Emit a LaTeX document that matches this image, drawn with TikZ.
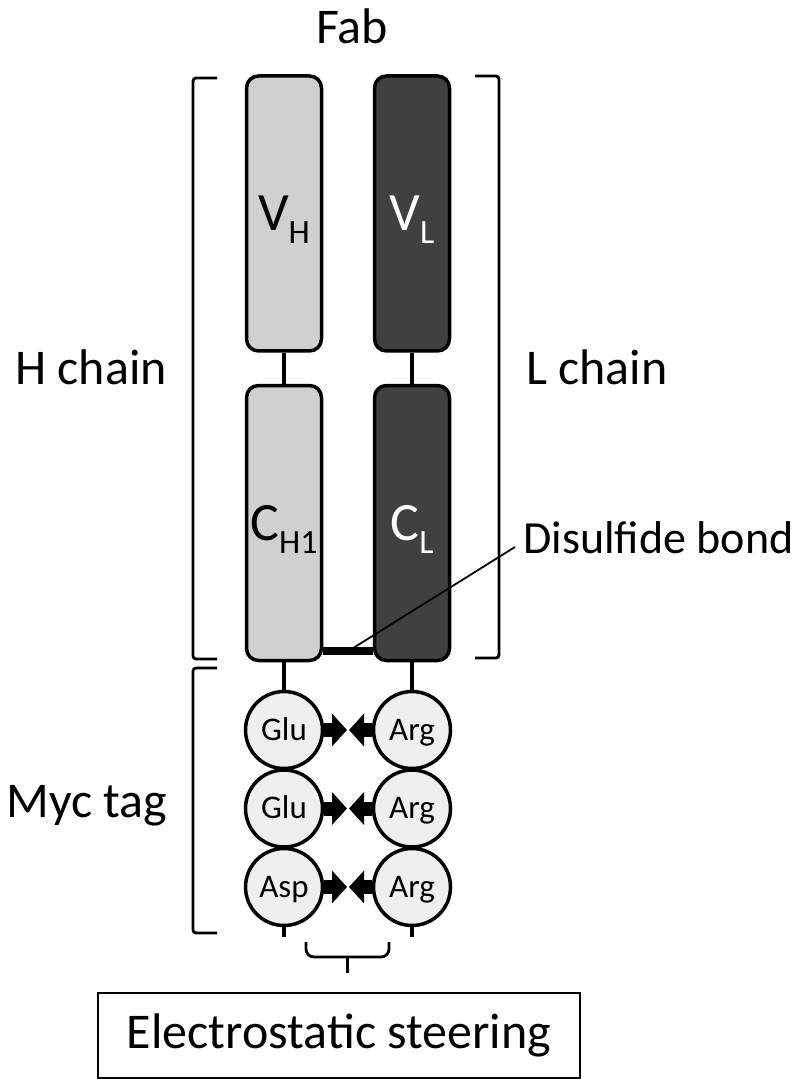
\documentclass[tikz,border=0pt]{standalone}
\usepackage{fontspec}
\setmainfont{Carlito}
\usetikzlibrary{positioning, arrows.meta, calc}
\definecolor{lightdomain}{HTML}{D0D0D0}
\definecolor{darkdomain}{HTML}{404040}
\definecolor{residuefill}{HTML}{EFEFEF}
\newcommand{\domlabel}[2]{{\fontsize{27}{30}\selectfont #1}{\fontsize{17}{20}\selectfont\raisebox{-6.5pt}[0pt][0pt]{#2}}}

\begin{document}
\begin{tikzpicture}
    [
        x=0.5pt, y=-0.5pt,
        node distance=154.75pt and 64pt, on grid,
        light_domain/.style={rectangle, rounded corners=6pt, draw=black, fill=lightdomain, line width=1.75pt, minimum width=37.5pt, minimum height=137.5pt, inner sep=0pt},
        dark_domain/.style={light_domain, fill=darkdomain, text=white},
        residue/.style={circle, draw=black, fill=residuefill, line width=1.75pt, minimum size=38.5pt, inner sep=0pt, text height=12pt, text depth=2pt, font=\fontsize{16.5}{18}\selectfont},
        link/.style={line width=2pt},
        bracket/.style={line width=1.4pt, rounded corners=1.5pt},
        attract/.style={-{Triangle[length=7.5pt, width=16pt]}, line width=7pt},
        big_label/.style={font=\fontsize{25}{30}\selectfont, anchor=base, inner sep=0pt},
    ]
        \useasboundingbox (0,0) rectangle (798,1079) ;
        \node[big_label] (fab) at (352,44) {Fab} ;
        \node[big_label] (h_chain) at (91,385) {H chain} ;
        \node[big_label] (l_chain) at (597,385) {L chain} ;
        \node[big_label] (myc_tag) at (87,817) {Myc tag} ;
        \node[light_domain] (vh) at (284,213.5) {\domlabel{V}{H}} ;
        \node[dark_domain] (vl) [right = of vh] {\domlabel{V}{L}} ;
        \node[light_domain] (ch1) [below = of vh] {\domlabel{C}{H1}} ;
        \node[dark_domain] (cl) [below = of vl] {\domlabel{C}{L}} ;
        \node[residue] (glu1) [below = 103.5pt of ch1] {Glu} ;
        \node[residue] (glu2) [below = 39.25pt of glu1] {Glu} ;
        \node[residue] (asp) [below = 39.25pt of glu2] {Asp} ;
        \node[residue] (arg1) [right = of glu1] {Arg} ;
        \node[residue] (arg2) [right = of glu2] {Arg} ;
        \node[residue] (arg3) [right = of asp] {Arg} ;
        \coordinate[below = 25pt of asp] (asp_tail) ;
        \coordinate[below = 25pt of arg3] (arg3_tail) ;
        \draw[link] (vh) -- (ch1) ;
        \draw[link] (vl) -- (cl) ;
        \draw[link] (ch1) -- (glu1) ;
        \draw[link] (cl) -- (arg1) ;
        \draw[link] (asp) -- (asp_tail) ;
        \draw[link] (arg3) -- (arg3_tail) ;
        % disulfide bond between CH1 and CL
        \coordinate (ss_left) at ([yshift=5.5pt]ch1.south east) ;
        \coordinate (ss_right) at ([yshift=5.5pt]cl.south west) ;
        \draw[line width=4pt] (ss_left) -- (ss_right) ;
        \node[font=\fontsize{23}{27}\selectfont, anchor=base west, inner sep=0pt] (ss_label) at (523,553) {Disulfide bond} ;
        \draw[line width=0.9pt] ($(ss_left)!0.5!(ss_right)$) -- ([xshift=-4pt, yshift=3pt]ss_label.base west) ;
        % charge pairs
        \coordinate (mid_1) at ($(glu1)!0.5!(arg1)$) ;
        \coordinate (mid_2) at ($(glu2)!0.5!(arg2)$) ;
        \coordinate (mid_3) at ($(asp)!0.5!(arg3)$) ;
        \draw[attract] (glu1) -- ([xshift=-0.5pt]mid_1) ;
        \draw[attract] (arg1) -- ([xshift=0.5pt]mid_1) ;
        \draw[attract] (glu2) -- ([xshift=-0.5pt]mid_2) ;
        \draw[attract] (arg2) -- ([xshift=0.5pt]mid_2) ;
        \draw[attract] (asp) -- ([xshift=-0.5pt]mid_3) ;
        \draw[attract] (arg3) -- ([xshift=0.5pt]mid_3) ;
        % brackets
        \draw[bracket] (217,78) -- (193,78) -- (193,659) -- (217,659) ;
        \draw[bracket] (475,76) -- (499,76) -- (499,658) -- (475,658) ;
        \draw[bracket] (217,668) -- (193,668) -- (193,933) -- (217,933) ;
        \draw[bracket, rounded corners=4pt] (306,942) -- (306,957) -- (389,957) -- (389,942) ;
        \draw[bracket] (347.5,957) -- (347.5,973) ;
        \node[draw, line width=1.1pt, minimum width=241pt, minimum height=42.5pt, font=\fontsize{25}{30}\selectfont] (steering) at (339,1035.5) {Electrostatic steering} ;
\end{tikzpicture}
\end{document}
